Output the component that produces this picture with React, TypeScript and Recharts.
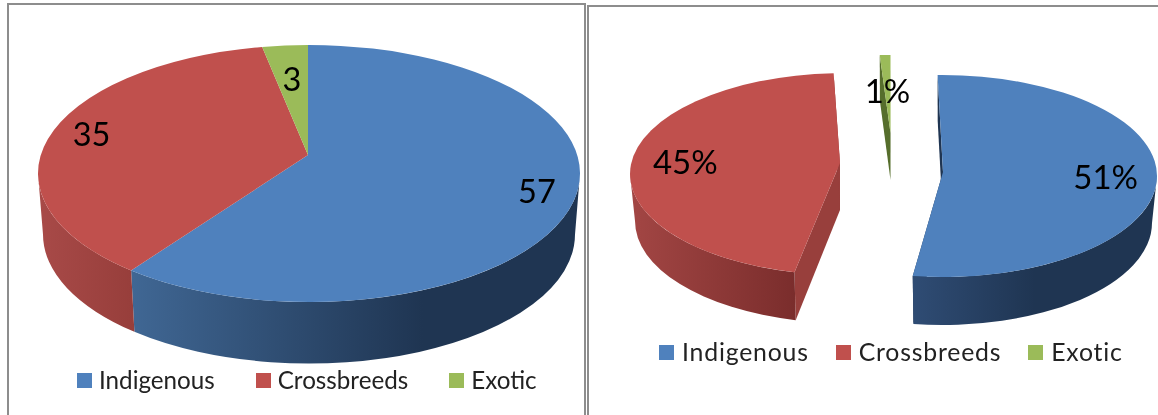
import React from "react";
import { PieChart, Pie, Legend } from "recharts";

const categories = ["Indigenous", "Crossbreeds", "Exotic"];
const countValues = [57, 35, 3];
const percentValues = [51, 45, 1];
const colors = ["#4f81bd", "#c0504d", "#9bbb59"];
const cutColors = ["#1f3552", "#983f3c", "#566e2c"];

const countData = categories.map((name, i) => ({ name, value: countValues[i], fill: colors[i] }));
const percentData = categories.map((name, i) => ({ name, value: percentValues[i], fill: colors[i] }));

type Geo = {
  id: string;
  apex: { x: number; y: number };
  ellipse: { dx: number; dy: number };
  twist: number;
  depth: number;
  rx: number; ry: number; rx2: number; ry2: number;
  cuts: boolean;
  wall: { stops: [number, string][] }[];
  labelAt: number;
  labelDy?: number;
};

const RAD = Math.PI / 180;

function ray(clock: number, apex: { x: number; y: number }, c: { x: number; y: number }, g: any) {
  const dx = Math.sin(clock * RAD) * g.rx;
  const dy = -Math.cos(clock * RAD) * g.ry;
  const ox = (apex.x - c.x) / g.rx, oy = (apex.y - c.y) / g.ry;
  const ux = dx / g.rx, uy = dy / g.ry;
  const A = ux * ux + uy * uy, B = 2 * (ox * ux + oy * uy), C = ox * ox + oy * oy - 1;
  const s = (-B + Math.sqrt(B * B - 4 * A * C)) / (2 * A);
  return { x: apex.x + s * dx, y: apex.y + s * dy };
}

const paramOf = (p: { x: number; y: number }, c: { x: number; y: number }, g: any) =>
  Math.atan2((p.x - c.x) / g.rx, -(p.y - c.y) / g.ry) / RAD;

function makeShape(geos: Geo[]) {
  return (props: any) => {
    const i = categories.indexOf(props.name ?? props.payload?.name);
    const g = geos[i];
    const apex = { x: props.cx + g.apex.x, y: props.cy + g.apex.y };
    const c = { x: apex.x + g.ellipse.dx, y: apex.y + g.ellipse.dy };
    const a0 = 90 - props.startAngle + g.twist;
    const a1 = 90 - props.endAngle + g.twist;
    const p0 = ray(a0, apex, c, g);
    const p1 = ray(a1, apex, c, g);
    let t0 = paramOf(p0, c, g);
    let t1 = paramOf(p1, c, g);
    if (t0 < -30) t0 += 360;
    if (t1 <= t0) t1 += 360;
    const bot = (t: number) => ({
      x: c.x + g.rx2 * Math.sin(t * RAD),
      y: c.y + g.depth - g.ry2 * Math.cos(t * RAD),
    });
    const top = (t: number) => ({
      x: c.x + g.rx * Math.sin(t * RAD),
      y: c.y - g.ry * Math.cos(t * RAD),
    });
    const large = t1 - t0 > 180 ? 1 : 0;
    const lo = Math.max(t0, 90), hi = Math.min(t1, 270);
    const gid = `${g.id}-wall-${i}`;
    const apexB = { x: apex.x, y: apex.y + g.depth };
    const quad = (t: number, p: { x: number; y: number }) => {
      const b = bot(t);
      return `M${p.x},${p.y}L${apex.x},${apex.y}L${apexB.x},${apexB.y}L${b.x},${b.y}Z`;
    };
    return (
      <g>
        <defs>
          <linearGradient id={gid} x1="0" x2="1" y1="0" y2="0">
            {g.wall[0].stops.map(([o, col], k) => (
              <stop key={k} offset={o} stopColor={col} />
            ))}
          </linearGradient>
        </defs>
        {g.cuts && <path d={quad(t0, p0)} fill={cutColors[i]} />}
        {g.cuts && <path d={quad(t1, p1)} fill={cutColors[i]} />}
        {hi > lo && (
          <path
            d={`M${top(lo).x},${top(lo).y}A${g.rx},${g.ry} 0 0 1 ${top(hi).x},${top(hi).y}L${bot(hi).x},${bot(hi).y}A${g.rx2},${g.ry2} 0 0 0 ${bot(lo).x},${bot(lo).y}Z`}
            fill={`url(#${gid})`}
          />
        )}
        <path
          d={`M${apex.x},${apex.y}L${p0.x},${p0.y}A${g.rx},${g.ry} 0 ${large} 1 ${p1.x},${p1.y}Z`}
          fill={props.fill}
        />
      </g>
    );
  };
}

function makeLabel(geos: Geo[], suffix: string, fontSize: number) {
  return (props: any) => {
    const i = categories.indexOf(props.name ?? props.payload?.name);
    const g = geos[i];
    const apex = { x: props.cx + g.apex.x, y: props.cy + g.apex.y };
    const c = { x: apex.x + g.ellipse.dx, y: apex.y + g.ellipse.dy };
    const rim = ray(90 - props.midAngle + g.twist, apex, c, g);
    const x = apex.x + (rim.x - apex.x) * g.labelAt;
    const y = apex.y + (rim.y - apex.y) * g.labelAt + (g.labelDy || 0);
    return (
      <text x={x} y={y} textAnchor="middle" dominantBaseline="central" fontSize={fontSize} fontFamily="Lato" fill="#000">
        {`${props.value}${suffix}`}
      </text>
    );
  };
}

const base = { rx: 271, ry: 128.5, rx2: 266, ry2: 129, depth: 61, cuts: false, apex: { x: 0, y: 0 }, ellipse: { dx: 1, dy: 18.5 }, twist: 0 };
const leftGeos: Geo[] = [
  { ...base, id: "l", labelAt: 0.855, wall: [{ stops: [[0, "#406794"], [0.65, "#1f3552"], [1, "#1f3552"]] }] },
  { ...base, id: "l", labelAt: 0.855, labelDy: 1, wall: [{ stops: [[0, "#a84a48"], [1, "#973e3b"]] }] },
  { ...base, id: "l", labelAt: 0.7, wall: [{ stops: [[0, "#566e2c"], [1, "#566e2c"]] }] },
];
const baseR = { rx: 215, ry: 101, rx2: 210, ry2: 102, depth: 47, cuts: true };
const rightGeos: Geo[] = [
  { ...baseR, id: "r", apex: { x: 51, y: 2 }, ellipse: { dx: -1, dy: 4 }, twist: 0.5, labelAt: 0.76, wall: [{ stops: [[0, "#2f4c74"], [0.5, "#1f3552"], [1, "#1f3552"]] }] },
  { ...baseR, id: "r", apex: { x: -52, y: -7 }, ellipse: { dx: 5, dy: 11 }, twist: 3.8, labelAt: 0.75, labelDy: 4, wall: [{ stops: [[0, "#a34644"], [1, "#7a2d2c"]] }] },
  { ...baseR, id: "r", apex: { x: -1.5, y: -37 }, ellipse: { dx: -3.5, dy: 23 }, twist: 2, labelAt: 0.55, wall: [{ stops: [[0, "#566e2c"], [1, "#566e2c"]] }] },
];

function legendContent(fontSize: number, spacing: number, box: number, gap: number, boxGap: number) {
  return (props: any) => (
    <div style={{ display: "flex", alignItems: "center", gap, fontFamily: "Lato", fontSize, letterSpacing: spacing, color: "#222", whiteSpace: "nowrap", lineHeight: "28px" }}>
      {(props.payload || []).map((e: any) => (
        <span key={e.value} style={{ display: "flex", alignItems: "center", gap: boxGap }}>
          <span style={{ display: "inline-block", width: box, height: box, background: e.color }} />
          <span>{e.value}</span>
        </span>
      ))}
    </div>
  );
}

const frame = (left: number, top: number, width: number, right: boolean): React.CSSProperties => ({
  position: "absolute",
  left,
  top,
  width,
  height: 415,
  boxSizing: "border-box",
  borderTop: "2px solid #8d8d8d",
  borderLeft: "2px solid #8d8d8d",
  borderRight: right ? "2px solid #8d8d8d" : "none",
});

const noMargin = { top: 0, right: 0, bottom: 0, left: 0 };

export default function App() {
  return (
    <div style={{ position: "absolute", left: 0, top: 0, width: 1158, height: 415, overflow: "hidden", background: "#fff", filter: "blur(0.45px)" }}>
      <div style={frame(7, 3, 579, true)} />
      <div style={frame(587, 5, 571, false)} />
      <div style={{ position: "absolute", left: 0, top: 0 }}>
        <PieChart width={586} height={415} margin={noMargin}>
          <Pie
            data={countData}
            dataKey="value"
            nameKey="name"
            cx={308}
            cy={155}
            innerRadius={0}
            outerRadius={200}
            startAngle={90}
            endAngle={-270}
            stroke="none"
            isAnimationActive={false}
            shape={makeShape(leftGeos)}
            label={makeLabel(leftGeos, "", 32.5)}
            labelLine={false}
          />
          <Legend
            itemSorter={null}
            wrapperStyle={{ left: 77, top: 366, width: 500 }}
            content={legendContent(24.2, 0, 15, 41, 7)}
          />
        </PieChart>
      </div>
      <div style={{ position: "absolute", left: 586, top: 0 }}>
        <PieChart width={572} height={415} margin={noMargin}>
          <Pie
            data={percentData}
            dataKey="value"
            nameKey="name"
            cx={306}
            cy={170}
            innerRadius={0}
            outerRadius={180}
            startAngle={92}
            endAngle={-268}
            stroke="none"
            isAnimationActive={false}
            shape={makeShape(rightGeos)}
            label={makeLabel(rightGeos, "%", 33)}
            labelLine={false}
          />
          <Legend
            itemSorter={null}
            wrapperStyle={{ left: 73, top: 338, width: 490 }}
            content={legendContent(24.8, 0.8, 15, 27, 8)}
          />
        </PieChart>
      </div>
    </div>
  );
}
